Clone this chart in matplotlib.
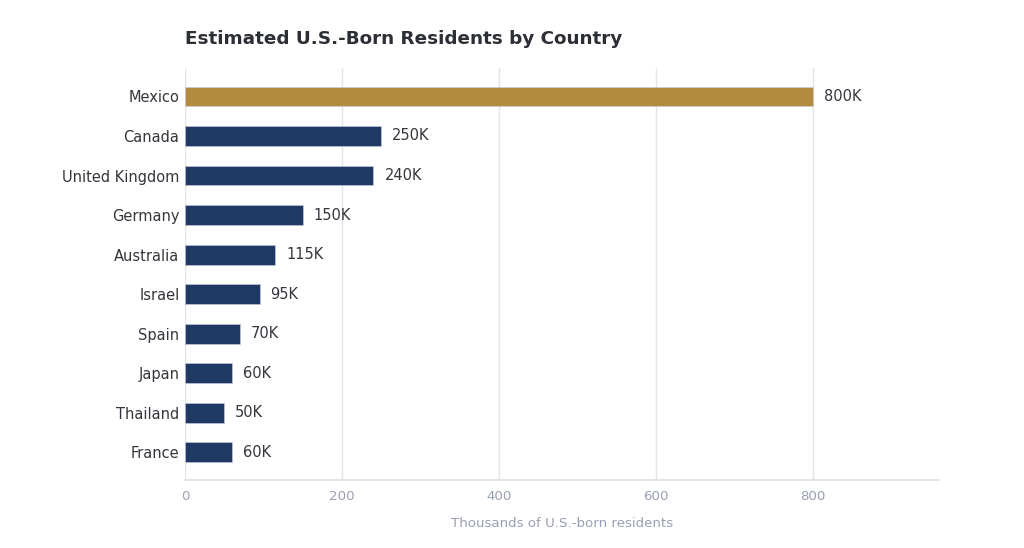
import matplotlib.pyplot as plt
import numpy as np

plt.rcParams['font.family'] = ['DejaVu Sans']

# data
countries = ["Mexico", "Canada", "United Kingdom", "Germany", "Australia",
             "Israel", "Spain", "Japan", "Thailand", "France"]
residents = [800, 250, 240, 150, 115, 95, 70, 60, 50, 60]  # thousands
value_labels = ["800K", "250K", "240K", "150K", "115K", "95K", "70K", "60K", "50K", "60K"]

gold = "#B38B3E"
navy = "#1F3864"
colors = [gold] + [navy] * (len(countries) - 1)

fig = plt.figure(figsize=(10.24, 5.48), dpi=100)
ax = fig.add_axes([0.1807, 0.124, 0.736, 0.752])

y = np.arange(len(countries))
ax.barh(y, residents, height=0.5, color=colors, edgecolor="#c9cfe0", linewidth=0.4, zorder=3)

for yi, v, lab in zip(y, residents, value_labels):
    ax.text(v + 14, yi, lab, va="center", ha="left", fontsize=10.5, color="#33363d")

ax.set_yticks(y)
ax.set_yticklabels(countries, fontsize=10.5, color="#33363d")
ax.set_ylim(len(countries) - 0.3, -0.72)
ax.set_xlim(0, 960)
ax.set_xticks([0, 200, 400, 600, 800])
ax.tick_params(axis="x", colors="#9aa0b3", labelsize=9.6, length=0, pad=7)
ax.tick_params(axis="y", length=0, pad=4)

ax.grid(axis="x", color="#e3e5ea", linewidth=1, zorder=0)
for s in ["top", "right", "left"]:
    ax.spines[s].set_visible(False)
ax.spines["bottom"].set_color("#dcdfe6")
ax.spines["bottom"].set_linewidth(1.2)

ax.set_xlabel("Thousands of U.S.-born residents", fontsize=9.6, color="#9aa0b3", labelpad=10)
ax.set_title("Estimated U.S.-Born Residents by Country", loc="left", fontsize=13.2,
             fontweight="bold", color="#2d2f36", pad=17)

fig.savefig("out.png", dpi=100, facecolor="white")
